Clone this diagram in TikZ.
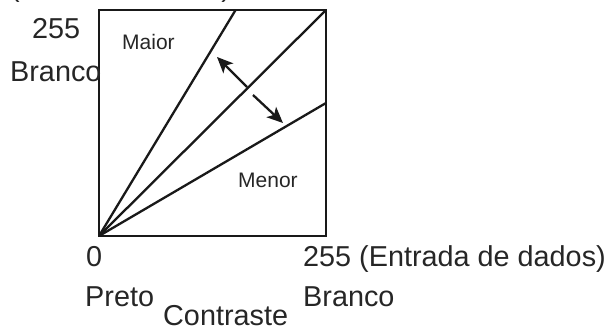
\documentclass[tikz,border=0pt]{standalone}
\usepackage{fontspec}
\setmainfont{Liberation Sans}
\usetikzlibrary{arrows.meta}
\begin{document}
\begin{tikzpicture}[x=1pt,y=-1pt,
  line/.style={line width=2.3pt,draw=black!90},
  arr/.style={line width=2.3pt,draw=black!90,-{Stealth[length=16pt,width=14pt,inset=4pt]}},
  big/.style={font=\fontsize{28.8}{30}\selectfont,text=black!85,inner sep=0pt,anchor=base west},
  small/.style={font=\fontsize{21}{23}\selectfont,text=black!85,inner sep=0pt,anchor=base west}]
\useasboundingbox (0,0) rectangle (614,329);
\begin{scope}
\clip (0,0) rectangle (614,329);
\node[big,anchor=base] (ylab) at (120.5,-3) {(Saída de dados)};
\end{scope}
% box corners
\coordinate (O) at (99,236);
\coordinate (TL) at (99,10);
\coordinate (TR) at (326,10);
\coordinate (BR) at (326,236);
\coordinate (S) at (235.6,10);
\coordinate (R) at (326,103);
\draw[line] (O) -- (TL) -- (TR) -- (BR) -- cycle;
\draw[line] (O) -- (S);
\draw[line] (O) -- (TR);
\draw[line] (O) -- (R);
% arrows
\coordinate (a1) at (247,87);
\coordinate (a1t) at (217,57);
\coordinate (a2) at (253,95);
\coordinate (a2t) at (283,123);
\draw[arr] (a1) -- (a1t);
\draw[arr] (a2) -- (a2t);
% labels
\node[big] (l255) at (32,39) {255};
\node[big] (lbr) at (10,82) {Branco};
\node[small] (maior) at (122,50) {Maior};
\node[small] (menor) at (238,187) {Menor};
\node[big] (zero) at (86,266) {0};
\node[big] (entr) at (303,266) {255 (Entrada de dados)};
\node[big] (preto) at (85,306) {Preto};
\node[big] (bbr) at (303,306) {Branco};
\node[big] (contr) at (163,325) {Contraste};
\end{tikzpicture}
\end{document}
